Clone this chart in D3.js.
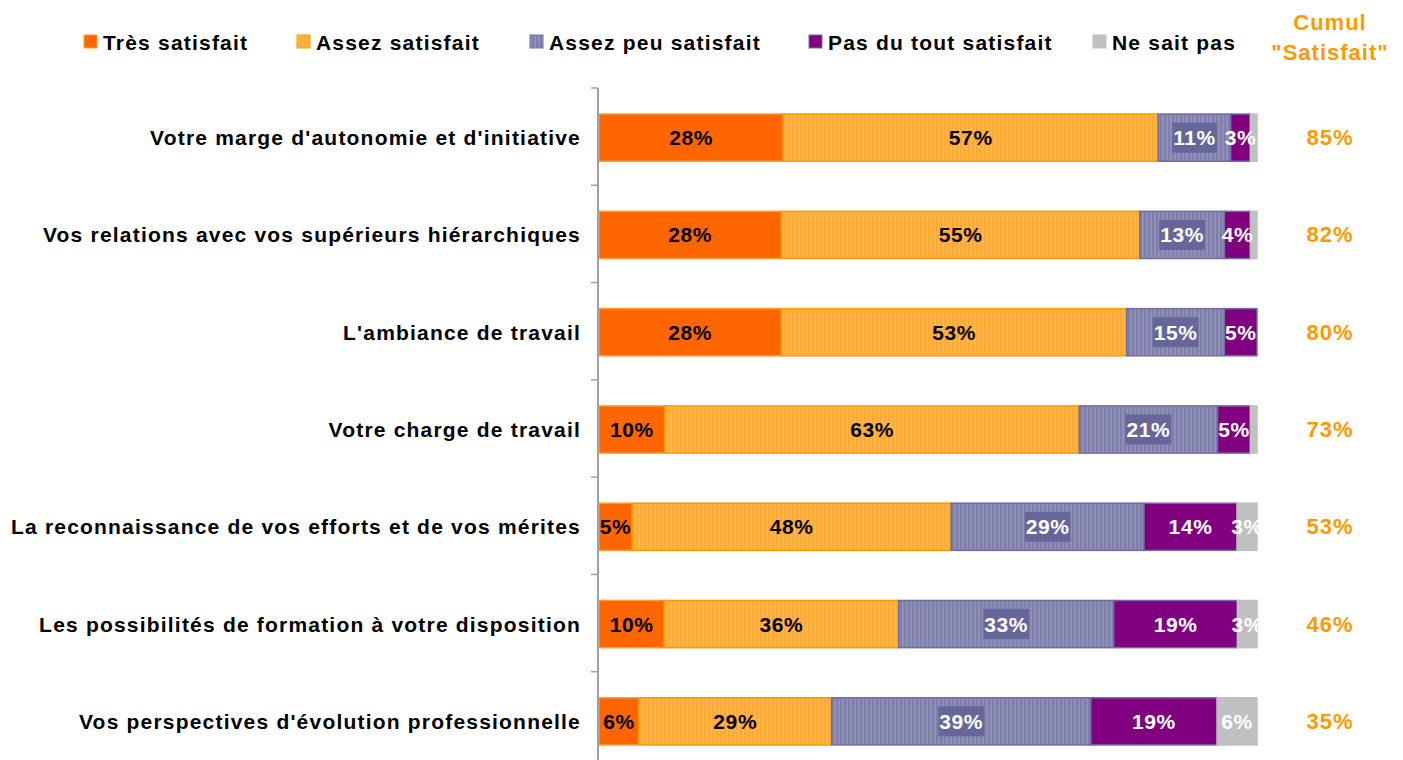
<!DOCTYPE html>
<html>
<head>
<meta charset="utf-8">
<script src="https://cdn.jsdelivr.net/npm/d3@7"></script>
<style>
  html, body { margin: 0; padding: 0; background: #fff; }
  svg { display: block; font-family: "Liberation Sans", Arial, sans-serif; }
</style>
</head>
<body>
<svg id="chart" width="1403" height="760"></svg>
<script>
// Satisfaction items (top to bottom)
const categories = [
  "Votre marge d'autonomie et d'initiative",
  "Vos relations avec vos supérieurs hiérarchiques",
  "L'ambiance de travail",
  "Votre charge de travail",
  "La reconnaissance de vos efforts et de vos mérites",
  "Les possibilités de formation à votre disposition",
  "Vos perspectives d'évolution professionnelle"
];
const seriesNames = ["Très satisfait", "Assez satisfait", "Assez peu satisfait", "Pas du tout satisfait", "Ne sait pas"];
const tresSatisfait   = [28, 28, 28, 10, 5, 10, 6];
const assezSatisfait  = [57, 55, 53, 63, 48, 36, 29];
const assezPeu        = [11, 13, 15, 21, 29, 33, 39];
const pasDuTout       = [3, 4, 5, 5, 14, 19, 19];
const neSaitPas       = [1, 1, 0, 1, 3, 3, 6];
const cumulSatisfait  = [85, 82, 80, 73, 53, 46, 35];

const svg = d3.select("#chart");
const defs = svg.append("defs");

// Fine vertical hatching used by the two middle series
function stripes(id, base, line) {
  const p = defs.append("pattern").attr("id", id)
    .attr("patternUnits", "userSpaceOnUse").attr("width", 4).attr("height", 10);
  p.append("rect").attr("width", 4).attr("height", 10).attr("fill", base);
  p.append("rect").attr("x", 0).attr("width", 2).attr("height", 10).attr("fill", line);
}
stripes("hatchOrange", "#FFB547", "#FFAA33");
stripes("hatchBlue", "#8F8FB8", "#7F7FAB");

const fills   = ["#FF6600", "url(#hatchOrange)", "url(#hatchBlue)", "#800080", "#C0C0C0"];
const strokes = ["#FF9933", "#FF9900", "#6E6EA3", "#6E6EA3", "#C0C0C0"];
const legendFills = ["#FF6600", "url(#hatchOrange)", "url(#hatchBlue)", "#800080", "#C0C0C0"];
const labelColors = ["#000", "#000", "#fff", "#fff", "#fff"];

const rows = categories.map((c, i) => ({
  cat: c,
  s0: tresSatisfait[i], s1: assezSatisfait[i], s2: assezPeu[i], s3: pasDuTout[i], s4: neSaitPas[i]
}));
const keys = ["s0", "s1", "s2", "s3", "s4"];
const stack = d3.stack().keys(keys).offset(d3.stackOffsetExpand);
const layers = stack(rows);

const x = d3.scaleLinear().domain([0, 1]).range([599, 1257]);
const y = d3.scaleBand().domain(categories).range([89, 770]).paddingInner(0.515).paddingOuter(0.2575);

// Bars
const g = svg.append("g");
layers.forEach((layer, k) => {
  const lg = g.append("g");
  lg.selectAll("rect").data(layer).join("rect")
    .attr("x", d => x(d[0]))
    .attr("y", d => y(d.data.cat))
    .attr("width", d => Math.max(0, x(d[1]) - x(d[0])))
    .attr("height", y.bandwidth())
    .attr("fill", fills[k])
    .attr("stroke", strokes[k])
    .attr("stroke-width", 1.5)
    .attr("display", d => (d[1] - d[0]) > 0 ? null : "none");
});

// Value labels
layers.forEach((layer, k) => {
  const key = keys[k];
  layer.forEach(d => {
    const v = d.data[key];
    if (v < 2) return;
    const cx = (x(d[0]) + x(d[1])) / 2;
    const cy = y(d.data.cat) + y.bandwidth() / 2;
    const t = g.append("text")
      .attr("x", cx).attr("y", cy)
      .attr("text-anchor", "middle").attr("dominant-baseline", "central")
      .attr("font-size", 21).attr("font-weight", "bold")
      .attr("letter-spacing", 0.6)
      .attr("fill", labelColors[k])
      .text(v + "%");
    if (k === 2) {
      const bb = t.node().getBBox();
      g.insert("rect", () => t.node())
        .attr("x", bb.x - 1).attr("y", cy - 15)
        .attr("width", bb.width + 2).attr("height", 30)
        .attr("fill", "#66669A");
    }
  });
});

// Category axis
const axisG = svg.append("g");
axisG.append("line").attr("x1", 598).attr("x2", 598).attr("y1", 88).attr("y2", 760)
  .attr("stroke", "#A0A0A0").attr("stroke-width", 2);
const bounds = d3.range(categories.length + 1).map(i => 88 + i * (681 / categories.length));
axisG.selectAll(".tick").data(bounds).join("line")
  .attr("x1", 591).attr("x2", 598)
  .attr("y1", d => d).attr("y2", d => d)
  .attr("stroke", "#A0A0A0").attr("stroke-width", 1.5);

axisG.selectAll(".cat").data(categories).join("text")
  .attr("x", 581)
  .attr("y", d => y(d) + y.bandwidth() / 2)
  .attr("text-anchor", "end").attr("dominant-baseline", "central")
  .attr("font-size", 21).attr("font-weight", "bold")
  .attr("letter-spacing", 1.2)
  .attr("fill", "#000")
  .text(d => d);

// Cumulative "satisfait" column
svg.selectAll(".cumul").data(categories).join("text")
  .attr("x", 1330)
  .attr("y", d => y(d) + y.bandwidth() / 2)
  .attr("text-anchor", "middle").attr("dominant-baseline", "central")
  .attr("font-size", 22).attr("font-weight", "bold")
  .attr("letter-spacing", 1)
  .attr("fill", "#FF9900")
  .text((d, i) => cumulSatisfait[i] + "%");

const head = svg.append("text").attr("text-anchor", "middle")
  .attr("font-size", 22).attr("font-weight", "bold").attr("fill", "#FF9900")
  .attr("letter-spacing", 1);
head.append("tspan").attr("x", 1330).attr("y", 30).text("Cumul");
head.append("tspan").attr("x", 1330).attr("y", 60).text("\"Satisfait\"");

// Legend
const legendX = [84, 297, 530, 809, 1093];
const leg = svg.append("g");
seriesNames.forEach((name, i) => {
  leg.append("rect")
    .attr("x", legendX[i]).attr("y", 35).attr("width", 13).attr("height", 13)
    .attr("fill", legendFills[i]).attr("stroke", strokes[i]).attr("stroke-width", 1);
  leg.append("text")
    .attr("x", legendX[i] + 19).attr("y", 42)
    .attr("dominant-baseline", "central")
    .attr("font-size", 21).attr("font-weight", "bold").attr("fill", "#000")
    .attr("letter-spacing", 1.2)
    .text(name);
});
</script>
</body>
</html>
